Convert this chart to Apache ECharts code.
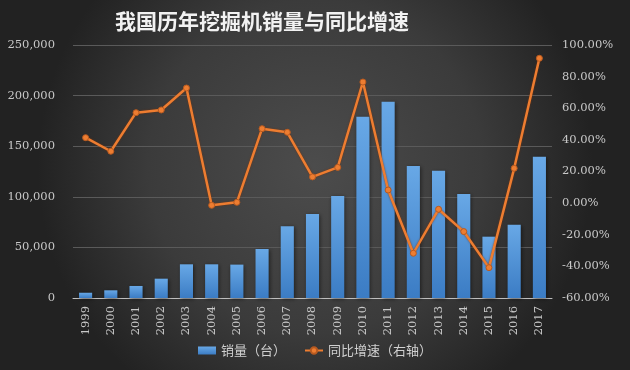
<!DOCTYPE html>
<html><head><meta charset="utf-8">
<script src="https://cdn.jsdelivr.net/npm/echarts@6/dist/echarts.min.js"></script>
<style>html,body{margin:0;padding:0;background:#2a2a2a}#c{width:630px;height:370px}</style>
</head><body><div id="c"></div>
<script>
const years = ['1999','2000','2001','2002','2003','2004','2005','2006','2007','2008','2009','2010','2011','2012','2013','2014','2015','2016','2017'];
const sales = [5200, 7600, 11900, 19100, 33300, 33300, 33000, 48400, 70800, 83000, 100800, 179000, 194000, 130400, 125800, 102800, 60600, 72400, 139600];
const growth = [41.4, 32.8, 57.2, 58.9, 72.8, -1.4, 0.5, 47.1, 44.8, 16.6, 22.6, 76.6, 8.3, -31.7, -3.9, -18.0, -40.8, 22.0, 91.6];
const leftTicks = [0, 50000, 100000, 150000, 200000, 250000];
const rightTicks = [-60, -40, -20, 0, 20, 40, 60, 80, 100];

const chart = echarts.init(document.getElementById('c'));
const serif = '"DejaVu Serif","Liberation Serif",serif';
const cjk = '"Noto Sans CJK SC",sans-serif';
chart.setOption({
  backgroundColor: {type:'radial', x:0.5, y:0.45, r:0.75, colorStops:[{offset:0,color:'#4c4c4c'},{offset:0.6,color:'#3b3b3b'},{offset:1,color:'#222222'}]},
  animation:false,
  title:{text:'我国历年挖掘机销量与同比增速', left:110, top:6, textStyle:{color:'#f2f2f2', fontSize:21, fontWeight:'bold', fontFamily:cjk}},
  legend:{bottom:8, left:'center', itemGap:18, itemWidth:18, itemHeight:8, textStyle:{color:'#d0d0d0', fontSize:13, fontFamily:cjk},
    data:[{name:'销量（台）', icon:'rect'}, {name:'同比增速（右轴）'}]},
  grid:{left:73, right:78, top:45, bottom:72},
  xAxis:{type:'category', data:years, axisTick:{show:false},
    axisLine:{lineStyle:{color:'#bfbfbf', width:1}},
    axisLabel:{rotate:90, color:'#c8c8c8', fontSize:11.5, fontFamily:serif, margin:8, interval:0}},
  yAxis:[
    {type:'value', min:0, max:250000, interval:50000,
      axisLabel:{color:'#c8c8c8', fontSize:11.5, fontFamily:serif, margin:18, formatter:v=>v.toLocaleString('en-US')},
      splitLine:{lineStyle:{color:'#5a5a5a', width:1}}, axisLine:{show:false}, axisTick:{show:false}},
    {type:'value', min:-60, max:100, interval:20,
      axisLabel:{color:'#c8c8c8', fontSize:11.5, fontFamily:serif, margin:10, formatter:v=>v.toFixed(2)+'%'},
      splitLine:{show:false}, axisLine:{show:false}, axisTick:{show:false}}
  ],
  series:[
    {name:'销量（台）', type:'bar', data:sales, barWidth:'52%',
      itemStyle:{color:{type:'linear',x:0,y:0,x2:0,y2:1,colorStops:[{offset:0,color:'#68a8e6'},{offset:1,color:'#3b7cc4'}]},
        shadowColor:'rgba(0,0,0,0.5)', shadowBlur:4, shadowOffsetX:1, shadowOffsetY:1}},
    {name:'同比增速（右轴）', type:'line', yAxisIndex:1, data:growth, symbol:'circle', symbolSize:6,
      lineStyle:{color:'#ed7d31', width:2.5, shadowColor:'rgba(120,50,10,0.8)', shadowBlur:2},
      itemStyle:{color:'#ed7d31', borderColor:'#b85a20', borderWidth:1}}
  ]
});
</script></body></html>
